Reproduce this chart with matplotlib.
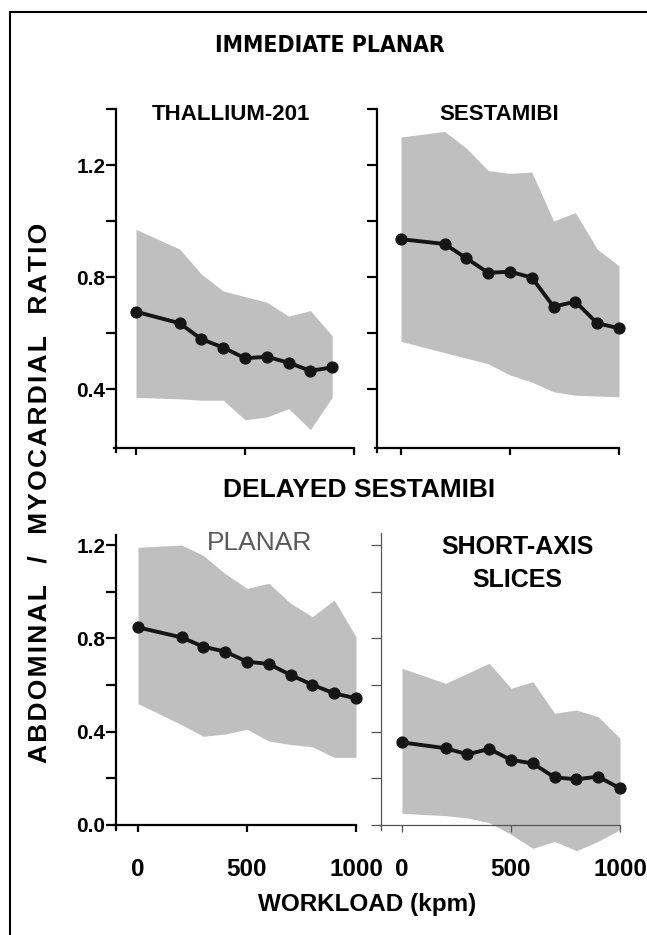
import numpy as np
import matplotlib.pyplot as plt
from matplotlib.lines import Line2D

plt.rcParams['font.family'] = ['Liberation Sans', 'DejaVu Sans']
plt.rcParams['font.weight'] = 'bold'

W, H = 647, 935

# workload (kpm)
load_tl = [0, 200, 300, 400, 500, 600, 700, 800, 900]
load = [0, 200, 300, 400, 500, 600, 700, 800, 900, 1000]

# immediate planar, thallium-201
tl_mean = [0.676, 0.635, 0.578, 0.548, 0.510, 0.515, 0.494, 0.465, 0.477]
tl_hi = [0.97, 0.90, 0.81, 0.75, 0.73, 0.71, 0.66, 0.68, 0.59]
tl_lo = [0.37, 0.365, 0.36, 0.36, 0.29, 0.30, 0.33, 0.255, 0.37]

# immediate planar, sestamibi
ts_mean = [0.935, 0.918, 0.867, 0.815, 0.819, 0.798, 0.694, 0.712, 0.635, 0.617]
ts_hi = [1.30, 1.32, 1.26, 1.18, 1.17, 1.175, 1.00, 1.03, 0.90, 0.84]
ts_lo = [0.57, 0.53, 0.51, 0.49, 0.45, 0.425, 0.39, 0.378, 0.375, 0.372]

# delayed sestamibi, planar
bp_mean = [0.847, 0.804, 0.764, 0.743, 0.700, 0.690, 0.643, 0.601, 0.564, 0.543]
bp_hi = [1.19, 1.20, 1.155, 1.077, 1.014, 1.036, 0.95, 0.893, 0.964, 0.807]
bp_lo = [0.52, 0.43, 0.38, 0.39, 0.41, 0.36, 0.345, 0.335, 0.29, 0.29]

# delayed sestamibi, short-axis slices
bs_mean = [0.354, 0.329, 0.303, 0.326, 0.279, 0.264, 0.204, 0.196, 0.207, 0.157]
bs_hi = [0.672, 0.607, 0.65, 0.693, 0.586, 0.614, 0.479, 0.493, 0.464, 0.372]
bs_lo = [0.05, 0.04, 0.03, 0.01, -0.04, -0.10, -0.07, -0.11, -0.07, -0.02]

fig = plt.figure(figsize=(W / 100, H / 100), dpi=100)


def px_axes(left, top, width, height):
    ax = fig.add_axes([left / W, 1 - (top + height) / H, width / W, height / H])
    ax.patch.set_visible(False)
    return ax


def panel(ax, x, mean, lo, hi, ylim, sx, sy, ybounds, yticks, ylab, xlab, thin=False):
    ax.fill_between(x, lo, hi, color='#bfbfbf', lw=0, zorder=1)
    ax.plot(x, mean, color='#151515', lw=2.8, marker='o', ms=7.8, zorder=3)
    ax.set_xlim(-140, 1040)
    ax.set_ylim(*ylim)
    ax.spines['top'].set_visible(False)
    ax.spines['right'].set_visible(False)
    ax.spines['left'].set_position(('data', sx))
    ax.spines['bottom'].set_position(('data', sy))
    ax.spines['left'].set_bounds(*ybounds)
    ax.spines['bottom'].set_bounds(sx - 10, 1000)
    col = '#555555' if thin else 'black'
    lw = 0.9 if thin else 1.6
    for s in ['left', 'bottom']:
        ax.spines[s].set_color(col)
        ax.spines[s].set_linewidth(lw)
        ax.spines[s].set_zorder(2)
    ax.set_yticks(yticks)
    ax.set_yticklabels(ylab)
    ax.set_xticks([0, 500, 1000])
    ax.set_xticklabels(xlab)
    ax.tick_params(axis='y', direction='out', length=7, width=lw, color=col,
                   pad=0.5, labelsize=15)
    ax.tick_params(axis='x', direction='out', length=5, width=lw, color=col,
                   pad=19, labelsize=17.5)


top_ticks = [0.4, 0.6, 0.8, 1.0, 1.2, 1.4]
top_lab = ['0.4', '', '0.8', '', '1.2', '']
bot_ticks = [0.0, 0.2, 0.4, 0.6, 0.8, 1.0, 1.2]
bot_lab = ['0.0', '', '0.4', '', '0.8', '', '1.2']

ax1 = px_axes(105.5, 95, 257.2, 364)
panel(ax1, load_tl, tl_mean, tl_lo, tl_hi, (0.15, 1.45), -92, 0.19, (0.175, 1.4),
      top_ticks, top_lab, ['', '', ''])

ax2 = px_axes(370.5, 95, 257.2, 364)
panel(ax2, load, ts_mean, ts_lo, ts_hi, (0.15, 1.45), -110, 0.19, (0.175, 1.4),
      top_ticks, [''] * 6, ['', '', ''])

ax3 = px_axes(107.5, 517, 257.2, 343)
panel(ax3, load, bp_mean, bp_lo, bp_hi, (-0.15, 1.32), -101, 0.0, (-0.02, 1.245),
      bot_ticks, bot_lab, ['0', '500', '1000'])

ax4 = px_axes(371.5, 517, 257.2, 343)
panel(ax4, load, bs_mean, bs_lo, bs_hi, (-0.15, 1.32), -96, 0.0, (-0.02, 1.25),
      bot_ticks, [''] * 7, ['0', '500', '1000'], thin=True)


def ftext(x, y, s, **kw):
    fig.text(x / W, 1 - y / H, s, ha='center', va='center', **kw)


ftext(330, 46, 'IMMEDIATE PLANAR', fontsize=16.5, family='DejaVu Sans',
      fontstretch='condensed')
ftext(359, 490, 'DELAYED SESTAMIBI', fontsize=19)
ftext(231, 115, 'THALLIUM-201', fontsize=16)
ftext(499, 115, 'SESTAMIBI', fontsize=16)
ftext(260, 543, 'PLANAR', fontsize=19, fontweight='normal', color='#5a5a5a')
ftext(517, 547, 'SHORT-AXIS', fontsize=18)
ftext(517, 580, 'SLICES', fontsize=18)
ftext(367, 905, 'WORKLOAD (kpm)', fontsize=17.5)
ylab = '\u200a'.join('ABDOMINAL  /  MYOCARDIAL  RATIO')
ftext(40, 493, ylab, fontsize=19, rotation=90)

# frame around the figure (left and top edges show)
fig.add_artist(Line2D([10 / W, 10 / W], [0, 1 - 12 / H], color='black', lw=1.5))
fig.add_artist(Line2D([10 / W, 1], [1 - 12 / H, 1 - 12 / H], color='black', lw=1.5))

fig.savefig('out.png', dpi=100)
